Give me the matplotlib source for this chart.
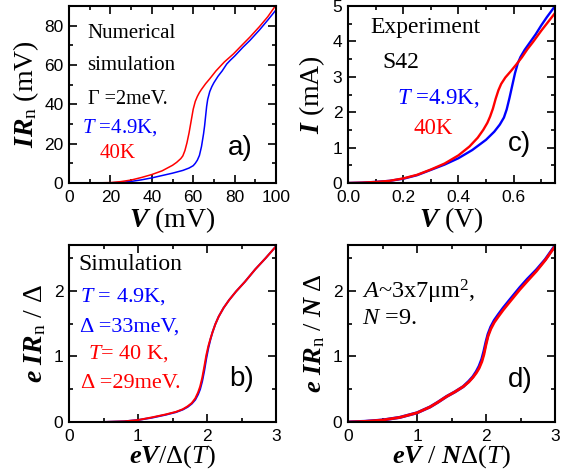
import matplotlib
matplotlib.use('Agg')
import matplotlib.pyplot as plt
from matplotlib.ticker import MultipleLocator, FormatStrFormatter

plt.rcParams['font.family'] = 'Liberation Serif'
plt.rcParams['mathtext.fontset'] = 'custom'
plt.rcParams['mathtext.rm'] = 'Liberation Serif'
plt.rcParams['mathtext.it'] = 'Liberation Serif:italic'
plt.rcParams['mathtext.bf'] = 'Liberation Serif:bold:italic'

BLUE = '#0000ff'
RED = '#ff0000'

# a) numerical simulation, IRn (mV) vs V (mV)
a_v_blue = [0, 10, 20, 25, 30, 35, 40, 45, 50, 55, 58, 60, 61, 62, 63, 64, 65, 65.5, 66, 66.5, 67, 68, 69, 70,
            72, 74, 76.2, 78, 80, 84, 87.4, 92, 96, 100]
a_ir_blue = [0, 0, 0.1, 0.3, 0.8, 1.6, 2.6, 3.8, 5.0, 6.4, 7.6, 8.8, 10, 11.6, 14, 18.5, 25, 29, 34, 39, 42.5, 46.5, 49, 51,
             54.3, 57, 60.5, 62.5, 64.5, 69, 72.5, 77.8, 82.8, 88]
a_v_red = [0, 10, 20, 25, 30, 35, 40, 45, 50, 52, 54, 55, 56, 57, 58, 59, 60, 61, 62, 63, 64, 66, 68, 71, 75,
           79.4, 83, 87.4, 92, 96, 100]
a_ir_red = [0, 0, 0.2, 0.7, 1.5, 2.8, 4.3, 6.2, 9.0, 10.5, 12.4, 13.8, 16.5, 20.5, 25.5, 31.5, 37.5, 41.5, 44, 46, 47.6,
            50.5, 53, 57, 61.5, 65.6, 69.5, 74.2, 79.5, 84.5, 90.5]

# c) experiment S42, I (mA) vs V (V)
c_v_blue = [0, 0.05, 0.1, 0.15, 0.2, 0.25, 0.3, 0.35, 0.4, 0.45, 0.5, 0.53, 0.55, 0.565, 0.575, 0.585, 0.595,
            0.605, 0.615, 0.625, 0.64, 0.66, 0.68, 0.7, 0.72, 0.755]
c_i_blue = [0, 0.01, 0.03, 0.06, 0.12, 0.22, 0.37, 0.52, 0.7, 0.93, 1.22, 1.45, 1.65, 1.85, 2.08, 2.4, 2.75,
            3.1, 3.38, 3.56, 3.76, 3.98, 4.2, 4.45, 4.68, 5.05]
c_v_red = [0, 0.05, 0.1, 0.15, 0.2, 0.25, 0.3, 0.35, 0.4, 0.44, 0.47, 0.49, 0.505, 0.515, 0.525, 0.535, 0.545,
           0.555, 0.57, 0.59, 0.61, 0.63, 0.65, 0.67, 0.7, 0.73, 0.755]
c_i_red = [0, 0.01, 0.03, 0.06, 0.13, 0.23, 0.38, 0.55, 0.78, 1.03, 1.28, 1.5, 1.7, 1.88, 2.1, 2.38, 2.62,
           2.8, 2.98, 3.16, 3.35, 3.55, 3.78, 3.98, 4.3, 4.6, 4.85]

# b) simulation, eIRn/Delta vs eV/Delta(T)
b_v = [0, 0.5, 0.8, 1.0, 1.2, 1.4, 1.55, 1.65, 1.72, 1.78, 1.83, 1.87, 1.9, 1.93, 1.96, 1.99, 2.02, 2.05, 2.08,
       2.12, 2.17, 2.24, 2.32, 2.42, 2.55, 2.7, 2.85, 3.0]
b_y_blue = [0, 0, 0.01, 0.03, 0.065, 0.11, 0.15, 0.19, 0.23, 0.28, 0.34, 0.42, 0.5, 0.62, 0.78, 0.97, 1.13, 1.26,
            1.37, 1.49, 1.61, 1.74, 1.86, 1.99, 2.14, 2.33, 2.5, 2.68]
b_y_red = [0, 0, 0.01, 0.03, 0.07, 0.115, 0.155, 0.195, 0.24, 0.29, 0.36, 0.45, 0.54, 0.67, 0.84, 1.02, 1.16, 1.27,
           1.37, 1.49, 1.61, 1.74, 1.86, 1.99, 2.14, 2.33, 2.5, 2.68]

# d) experiment, eIRn/N Delta vs eV/N Delta(T)
d_v = [0, 0.25, 0.5, 0.75, 1.0, 1.19, 1.3, 1.43, 1.55, 1.67, 1.75, 1.81, 1.86, 1.9, 1.94, 1.97, 2.0, 2.03, 2.07,
       2.12, 2.18, 2.25, 2.35, 2.49, 2.6, 2.73, 2.86, 3.0]
d_y_blue = [0, 0.01, 0.03, 0.07, 0.14, 0.23, 0.3, 0.39, 0.46, 0.54, 0.62, 0.69, 0.77, 0.85, 0.96, 1.08, 1.22, 1.34,
            1.45, 1.55, 1.64, 1.74, 1.87, 2.05, 2.18, 2.32, 2.48, 2.69]
d_y_red = [0, 0.01, 0.03, 0.07, 0.14, 0.23, 0.3, 0.39, 0.46, 0.54, 0.61, 0.68, 0.75, 0.82, 0.92, 1.03, 1.18, 1.31,
           1.42, 1.52, 1.61, 1.71, 1.84, 2.02, 2.15, 2.3, 2.47, 2.68]

fig = plt.figure(figsize=(5.62, 4.71), dpi=100)
W, H = 562, 471


def make_ax(left, top, right, bottom):
    return fig.add_axes([left / W, 1 - bottom / H, (right - left) / W, (bottom - top) / H])


def style(ax, xmaj, xmin, ymaj, ymin):
    ax.xaxis.set_major_locator(MultipleLocator(xmaj))
    ax.xaxis.set_minor_locator(MultipleLocator(xmin))
    ax.yaxis.set_major_locator(MultipleLocator(ymaj))
    ax.yaxis.set_minor_locator(MultipleLocator(ymin))
    ax.tick_params(which='both', direction='in', top=True, right=True, width=1.2)
    ax.tick_params(which='major', length=6, labelsize=12.5, pad=4)
    ax.tick_params(which='minor', length=3)
    ax.tick_params(axis='x', which='major', pad=5)
    for lab in ax.get_xticklabels() + ax.get_yticklabels():
        lab.set_family('Liberation Sans')
    for s in ax.spines.values():
        s.set_linewidth(1.5)


def note(ax, x, y, s, size=15, color='black', **kw):
    # x, y in figure pixels from top-left, left/center anchored
    ax.text(x / W, 1 - y / H, s, transform=fig.transFigure, fontsize=size, color=color,
            va='center', **kw)


ax_a = make_ax(69, 6, 276, 183)
ax_c = make_ax(348, 6, 555, 183)
ax_b = make_ax(69, 245, 276, 422)
ax_d = make_ax(348, 245, 555, 422)

LBL = 20

# panel a
ax_a.plot(a_v_blue, a_ir_blue, color=BLUE, lw=1.1)
ax_a.plot(a_v_red, a_ir_red, color=RED, lw=1.1)
ax_a.set_xlim(0, 100)
ax_a.set_ylim(0, 90)
style(ax_a, 20, 10, 20, 10)
ax_a.set_xlabel(r'$\mathbf{V}$ (mV)', fontsize=LBL, labelpad=0)
ax_a.set_ylabel(r'$\mathbf{IR}_{\mathrm{n}}\ $(mV)', fontsize=LBL, labelpad=2)
note(ax_a, 87, 33, 'Numerical')
note(ax_a, 87, 65, 'simulation')
note(ax_a, 88, 99, '\u0393 =2meV.', size=14.5)
note(ax_a, 82, 128, r'$T$ =4.9K,', color=BLUE)
note(ax_a, 100, 154, '40K', color=RED)
note(ax_a, 228, 148, 'a)', size=20, family='Liberation Sans')

# panel c
ax_c.plot(c_v_blue, c_i_blue, color=BLUE, lw=1.7)
ax_c.plot(c_v_red, c_i_red, color=RED, lw=1.7)
ax_c.set_xlim(0, 0.75)
ax_c.set_ylim(0, 5)
style(ax_c, 0.2, 0.1, 1, 0.5)
ax_c.xaxis.set_major_formatter(FormatStrFormatter('%.1f'))
ax_c.set_xlabel(r'$\mathbf{V}$ (V)', fontsize=LBL, labelpad=0)
ax_c.set_ylabel(r'$\mathbf{I}$ (mA)', fontsize=LBL, labelpad=4)
note(ax_c, 370, 28, 'Experiment', size=17)
note(ax_c, 382, 63, 'S42', size=17)
note(ax_c, 397, 98, r'$T$ =4.9K,', size=16.5, color=BLUE)
note(ax_c, 413, 128, '40K', size=16.5, color=RED)
note(ax_c, 508, 144, 'c)', size=20, family='Liberation Sans')

# panel b
ax_b.plot(b_v, b_y_blue, color=BLUE, lw=1.4)
ax_b.plot(b_v, b_y_red, color=RED, lw=1.4)
ax_b.set_xlim(0, 3)
ax_b.set_ylim(0, 2.7)
style(ax_b, 1, 0.5, 1, 0.5)
ax_b.set_xlabel(r'$\mathbf{eV}$/$\Delta$($T$)', fontsize=19, labelpad=-0.5)
ax_b.set_ylabel(r'$\mathbf{e\ IR}_{\mathrm{n}}\ $/ $\Delta$', fontsize=LBL, labelpad=4)
note(ax_b, 78, 265, 'Simulation', size=17)
note(ax_b, 80, 297, r'$T$ = 4.9K,', size=16, color=BLUE)
note(ax_b, 80, 327, '\u0394 =33meV,', size=16, color=BLUE)
note(ax_b, 88, 354, r'$T$= 40 K,', size=16, color=RED)
note(ax_b, 81, 383, '\u0394 =29meV.', size=16, color=RED)
note(ax_b, 229, 379, 'b)', size=20, family='Liberation Sans')

# panel d
ax_d.plot(d_v, d_y_blue, color=BLUE, lw=2.2)
ax_d.plot(d_v, d_y_red, color=RED, lw=2.0)
ax_d.set_xlim(0, 3)
ax_d.set_ylim(0, 2.7)
style(ax_d, 1, 0.5, 1, 0.5)
ax_d.set_xlabel(r'$\mathbf{eV}$ / $\mathbf{N}\Delta$($T$)', fontsize=19, labelpad=-0.5)
ax_d.set_ylabel(r'$\mathbf{e\ IR}_{\mathrm{n}}\ $/ $\mathbf{N}\ \Delta$', fontsize=19, labelpad=4)
note(ax_d, 362, 292, r'$A$~3x7$\mathrm{\mu}$m$^2$,', size=17.5)
note(ax_d, 362, 319, r'$N$ =9.', size=17.5)
note(ax_d, 508, 380, 'd)', size=20, family='Liberation Sans')

fig.savefig('out.png', dpi=100)
